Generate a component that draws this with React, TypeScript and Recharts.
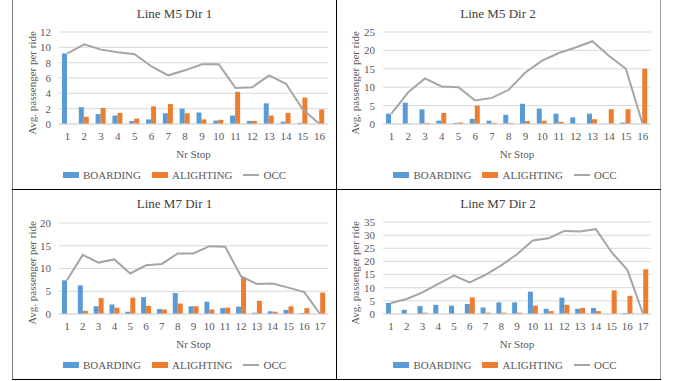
import React from 'react';
import {
  ComposedChart, Bar, Line, XAxis, YAxis, CartesianGrid, Legend,
} from 'recharts';

// stops
const stops16 = ['1', '2', '3', '4', '5', '6', '7', '8', '9', '10', '11', '12', '13', '14', '15', '16'];
const stops17 = [...stops16, '17'];

// Line M5 Dir 1
const m5d1Boarding = [9.2, 2.2, 1.3, 1.1, 0.4, 0.6, 1.4, 2.0, 1.5, 0.45, 1.1, 0.4, 2.7, 0.3, 0.15, 0];
const m5d1Alighting = [0, 0.95, 2.1, 1.45, 0.7, 2.3, 2.6, 1.4, 0.6, 0.55, 4.2, 0.4, 1.1, 1.45, 3.45, 1.9];
const m5d1Occ = [9.2, 10.4, 9.7, 9.35, 9.1, 7.5, 6.35, 7.0, 7.8, 7.8, 4.7, 4.8, 6.35, 5.25, 1.9, 0];

// Line M5 Dir 2
const m5d2Boarding = [2.8, 5.8, 4.0, 0.9, 0.3, 1.4, 0.9, 2.5, 5.5, 4.2, 2.8, 1.8, 2.8, 0, 0.4, 0];
const m5d2Alighting = [0, 0.1, 0.3, 3.0, 0.4, 5.0, 0.3, 0.3, 0.8, 0.9, 0.6, 0.1, 1.3, 4.0, 4.0, 15.0];
const m5d2Occ = [2.8, 8.6, 12.4, 10.2, 10.0, 6.4, 7.1, 9.3, 14.0, 17.2, 19.3, 20.8, 22.5, 18.5, 15.0, 0];

// Line M7 Dir 1
const m7d1Boarding = [7.4, 6.3, 1.7, 2.1, 0.5, 3.7, 1.1, 4.6, 1.7, 2.7, 1.3, 1.6, 0.3, 0.6, 0.9, 0.2, 0];
const m7d1Alighting = [0, 0.7, 3.5, 1.4, 3.6, 1.8, 1.0, 2.3, 1.7, 1.0, 1.4, 8.1, 2.9, 0.5, 1.7, 1.3, 4.7];
const m7d1Occ = [7.4, 13.0, 11.3, 12.0, 8.9, 10.7, 11.0, 13.3, 13.3, 14.9, 14.8, 8.3, 6.6, 6.7, 5.8, 4.8, 0];

// Line M7 Dir 2
const m7d2Boarding = [4.2, 1.6, 3.0, 3.5, 3.2, 3.8, 2.5, 4.4, 4.4, 8.5, 2.0, 6.2, 2.0, 2.3, 0.1, 0.4, 0];
const m7d2Alighting = [0, 0.1, 0.5, 0.1, 0.1, 6.3, 0.5, 0.5, 0.5, 3.2, 1.1, 3.5, 2.3, 1.1, 9.0, 6.9, 17.0];
const m7d2Occ = [4.2, 5.7, 8.2, 11.5, 14.6, 12.0, 14.9, 18.5, 22.7, 28.0, 28.8, 31.6, 31.4, 32.3, 23.5, 16.8, 0];

const m5d1Ticks = [0, 2, 4, 6, 8, 10, 12];
const m5d2Ticks = [0, 5, 10, 15, 20, 25];
const m7d1Ticks = [0, 5, 10, 15, 20];
const m7d2Ticks = [0, 5, 10, 15, 20, 25, 30, 35];

const legendOrder = ['BOARDING', 'ALIGHTING', 'OCC'];

const FONT = '"Liberation Serif", "Times New Roman", "DejaVu Serif", serif';
const TEXT = '#595959';

function buildRows(stops: string[], b: number[], a: number[], o: number[]) {
  return stops.map((s, i) => ({ stop: s, BOARDING: b[i], ALIGHTING: a[i], OCC: o[i] }));
}

function LegendRow({ payload }: any) {
  const items = [...(payload || [])].sort(
    (x: any, y: any) => legendOrder.indexOf(x.value) - legendOrder.indexOf(y.value),
  );
  return (
    <div style={{ display: 'flex', justifyContent: 'center', alignItems: 'center', fontFamily: FONT, fontSize: 11, color: TEXT }}>
      {items.map((p: any) => (
        <div key={p.value} style={{ display: 'flex', alignItems: 'center', marginRight: 11 }}>
          <svg width={16} height={8} style={{ marginRight: 4 }}>
            {p.type === 'plainline'
              ? <line x1={0} y1={4} x2={16} y2={4} stroke={p.color} strokeWidth={2} />
              : <rect x={0} y={1} width={16} height={6} fill={p.color} />}
          </svg>
          <span>{p.value}</span>
        </div>
      ))}
    </div>
  );
}

type PanelProps = {
  title: string;
  left: number;
  top: number;
  width: number;
  plotLeft: number;
  plotRight: number;
  plotTop: number;
  ylabelX: number;
  stops: string[];
  boarding: number[];
  alighting: number[];
  occ: number[];
  ticks: number[];
};

function Panel(p: PanelProps) {
  const height = 189;
  const rows = buildRows(p.stops, p.boarding, p.alighting, p.occ);
  const plotBottom = 124;
  const yMax = p.ticks[p.ticks.length - 1];
  const titleCenter = (p.plotLeft + p.plotRight) / 2 - 19;
  return (
    <div style={{ position: 'absolute', left: p.left, top: p.top, width: p.width, height }}>
      <div style={{ position: 'absolute', left: titleCenter - 100, width: 200, top: 6, textAlign: 'center', fontFamily: FONT, fontSize: 13, color: '#404040' }}>
        {p.title}
      </div>
      <div style={{ position: 'absolute', left: p.ylabelX - 60, width: 120, top: 84 - 7, textAlign: 'center', fontFamily: FONT, fontSize: 11, color: TEXT, transform: 'rotate(-90deg)', whiteSpace: 'nowrap' }}>
        Avg. passenger per ride
      </div>
      <ComposedChart
        width={p.width}
        height={height}
        data={rows}
        barGap={0}
        margin={{ top: p.plotTop, left: p.plotLeft - 30, right: p.width - p.plotRight, bottom: height - plotBottom - 20 }}
        style={{ fontFamily: FONT }}
      >
        <CartesianGrid vertical={false} stroke="#D9D9D9" />
        <XAxis
          dataKey="stop"
          height={20}
          interval={0}
          tickLine={false}
          axisLine={{ stroke: '#D9D9D9' }}
          tick={{ fontSize: 11, fill: TEXT, fontFamily: FONT }}
          label={{ value: 'Nr Stop', position: 'bottom', offset: 6, fontSize: 11, fill: TEXT, fontFamily: FONT }}
        />
        <YAxis
          width={30}
          domain={[0, yMax]}
          ticks={p.ticks}
          interval={0}
          axisLine={false}
          tickLine={false}
          tick={{ fontSize: 11, fill: TEXT, fontFamily: FONT }}
        />
        <Legend
          layout="horizontal"
          verticalAlign="middle"
          align="center"
          content={<LegendRow />}
          wrapperStyle={{ left: 12, top: 169, width: p.width, height: 14 }}
        />
        <Bar dataKey="BOARDING" fill="#5B9BD5" barSize={5} legendType="rect" isAnimationActive={false} />
        <Bar dataKey="ALIGHTING" fill="#ED7D31" barSize={5} legendType="rect" isAnimationActive={false} />
        <Line dataKey="OCC" stroke="#A5A5A5" strokeWidth={2} dot={false} legendType="plainline" isAnimationActive={false} />
      </ComposedChart>
    </div>
  );
}

export default function App() {
  return (
    <div style={{ position: 'absolute', left: 0, top: 0, width: 675, height: 381, background: '#fff', overflow: 'hidden' }}>
      {/* frame lines */}
      <div style={{ position: 'absolute', left: 12, top: 0, width: 1, height: 380, background: '#7F7F7F' }} />
      <div style={{ position: 'absolute', left: 660, top: 0, width: 1, height: 380, background: '#A0A0A0' }} />
      <div style={{ position: 'absolute', left: 336, top: 0, width: 1, height: 380, background: '#000' }} />
      <div style={{ position: 'absolute', left: 12, top: 189, width: 649, height: 1, background: '#000' }} />
      <div style={{ position: 'absolute', left: 12, top: 379, width: 649, height: 1, background: '#000' }} />

      <Panel title="Line M5 Dir 1" left={0} top={0} width={336} plotLeft={59} plotRight={328} plotTop={32} ylabelX={32}
        stops={stops16} boarding={m5d1Boarding} alighting={m5d1Alighting} occ={m5d1Occ} ticks={m5d1Ticks} />
      <Panel title="Line M5 Dir 2" left={337} top={0} width={323} plotLeft={46} plotRight={314} plotTop={32} ylabelX={18}
        stops={stops16} boarding={m5d2Boarding} alighting={m5d2Alighting} occ={m5d2Occ} ticks={m5d2Ticks} />
      <Panel title="Line M7 Dir 1" left={0} top={190} width={336} plotLeft={59} plotRight={328} plotTop={33} ylabelX={32}
        stops={stops17} boarding={m7d1Boarding} alighting={m7d1Alighting} occ={m7d1Occ} ticks={m7d1Ticks} />
      <Panel title="Line M7 Dir 2" left={337} top={190} width={323} plotLeft={46} plotRight={314} plotTop={32} ylabelX={18}
        stops={stops17} boarding={m7d2Boarding} alighting={m7d2Alighting} occ={m7d2Occ} ticks={m7d2Ticks} />
    </div>
  );
}
